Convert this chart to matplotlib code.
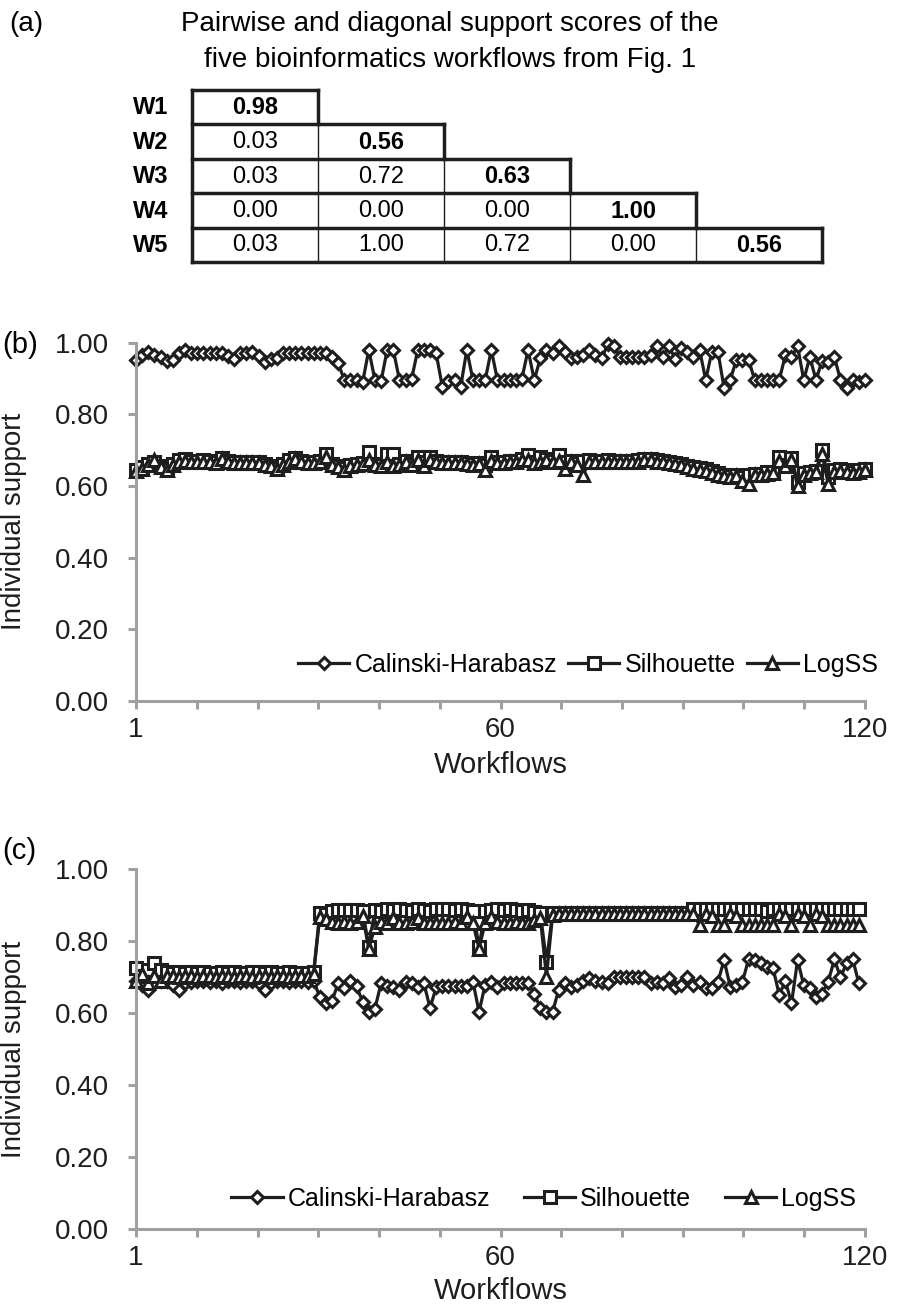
import numpy as np
import matplotlib.pyplot as plt

plt.rcParams['font.family'] = ['Liberation Sans', 'DejaVu Sans']

# (a) pairwise / diagonal support table
workflow_names = ['W1', 'W2', 'W3', 'W4', 'W5']
support_scores = [
    [0.98],
    [0.03, 0.56],
    [0.03, 0.72, 0.63],
    [0.00, 0.00, 0.00, 1.00],
    [0.03, 1.00, 0.72, 0.00, 0.56],
]

series_names = ['Calinski-Harabasz', 'Silhouette', 'LogSS']

# (b) individual support, 120 workflows
ch_b = [
    0.952, 0.966, 0.975, 0.966, 0.960, 0.948, 0.952, 0.970, 0.980, 0.970,
    0.970, 0.970, 0.970, 0.970, 0.970, 0.962, 0.955, 0.970, 0.970, 0.975,
    0.963, 0.947, 0.955, 0.958, 0.970, 0.970, 0.970, 0.970, 0.970, 0.970,
    0.970, 0.970, 0.960, 0.943, 0.896, 0.896, 0.896, 0.890, 0.980, 0.896,
    0.892, 0.980, 0.980, 0.896, 0.896, 0.900, 0.980, 0.980, 0.980, 0.970,
    0.877, 0.892, 0.896, 0.877, 0.980, 0.896, 0.896, 0.896, 0.980, 0.896,
    0.896, 0.896, 0.896, 0.900, 0.980, 0.896, 0.956, 0.980, 0.970, 0.990,
    0.975, 0.956, 0.960, 0.965, 0.980, 0.965, 0.956, 0.995, 0.990, 0.960,
    0.960, 0.960, 0.960, 0.960, 0.965, 0.990, 0.960, 0.990, 0.955, 0.985,
    0.975, 0.960, 0.980, 0.896, 0.975, 0.975, 0.873, 0.896, 0.952, 0.952,
    0.952, 0.896, 0.896, 0.896, 0.896, 0.896, 0.965, 0.960, 0.990, 0.896,
    0.960, 0.896, 0.950, 0.945, 0.960, 0.896, 0.873, 0.896, 0.890, 0.896]
sil_b = [
    0.645, 0.652, 0.662, 0.668, 0.655, 0.648, 0.662, 0.672, 0.675, 0.670,
    0.670, 0.672, 0.670, 0.668, 0.678, 0.670, 0.667, 0.668, 0.666, 0.666,
    0.668, 0.662, 0.657, 0.650, 0.662, 0.672, 0.678, 0.670, 0.668, 0.667,
    0.670, 0.690, 0.662, 0.655, 0.650, 0.658, 0.662, 0.665, 0.695, 0.662,
    0.658, 0.690, 0.690, 0.662, 0.670, 0.662, 0.680, 0.667, 0.680, 0.670,
    0.667, 0.667, 0.666, 0.666, 0.665, 0.662, 0.664, 0.658, 0.682, 0.667,
    0.667, 0.670, 0.670, 0.675, 0.687, 0.667, 0.680, 0.675, 0.670, 0.687,
    0.668, 0.670, 0.665, 0.670, 0.672, 0.670, 0.670, 0.672, 0.670, 0.670,
    0.670, 0.670, 0.672, 0.675, 0.675, 0.672, 0.670, 0.667, 0.664, 0.662,
    0.657, 0.652, 0.650, 0.647, 0.642, 0.635, 0.632, 0.628, 0.630, 0.625,
    0.630, 0.634, 0.634, 0.638, 0.640, 0.680, 0.660, 0.677, 0.612, 0.635,
    0.638, 0.642, 0.700, 0.625, 0.645, 0.648, 0.645, 0.640, 0.645, 0.648]
log_b = [
    0.642, 0.648, 0.658, 0.672, 0.652, 0.645, 0.658, 0.668, 0.670, 0.668,
    0.666, 0.668, 0.668, 0.665, 0.675, 0.667, 0.664, 0.665, 0.664, 0.663,
    0.665, 0.660, 0.655, 0.648, 0.660, 0.668, 0.675, 0.668, 0.665, 0.664,
    0.668, 0.682, 0.660, 0.652, 0.646, 0.655, 0.660, 0.662, 0.672, 0.660,
    0.655, 0.668, 0.657, 0.660, 0.668, 0.658, 0.672, 0.655, 0.672, 0.666,
    0.664, 0.664, 0.663, 0.663, 0.662, 0.660, 0.661, 0.645, 0.670, 0.664,
    0.664, 0.667, 0.667, 0.672, 0.672, 0.664, 0.668, 0.672, 0.667, 0.670,
    0.648, 0.667, 0.660, 0.632, 0.668, 0.666, 0.667, 0.668, 0.666, 0.666,
    0.667, 0.667, 0.668, 0.672, 0.672, 0.668, 0.667, 0.664, 0.661, 0.659,
    0.652, 0.648, 0.645, 0.642, 0.637, 0.630, 0.628, 0.624, 0.627, 0.615,
    0.607, 0.630, 0.630, 0.634, 0.637, 0.670, 0.655, 0.672, 0.600, 0.632,
    0.635, 0.640, 0.688, 0.605, 0.638, 0.642, 0.640, 0.636, 0.640, 0.645]

# (c) individual support, 119 workflows
ch_c = [
    0.690, 0.680, 0.665, 0.685, 0.690, 0.690, 0.680, 0.665, 0.685, 0.688,
    0.690, 0.690, 0.688, 0.690, 0.685, 0.690, 0.690, 0.688, 0.690, 0.690,
    0.685, 0.665, 0.685, 0.690, 0.690, 0.688, 0.690, 0.690, 0.688, 0.690,
    0.645, 0.630, 0.635, 0.683, 0.670, 0.690, 0.675, 0.632, 0.604, 0.613,
    0.683, 0.675, 0.672, 0.665, 0.688, 0.683, 0.672, 0.683, 0.615, 0.672,
    0.675, 0.675, 0.675, 0.675, 0.675, 0.688, 0.604, 0.680, 0.688, 0.672,
    0.683, 0.683, 0.683, 0.683, 0.683, 0.655, 0.615, 0.604, 0.604, 0.665,
    0.683, 0.672, 0.680, 0.690, 0.697, 0.690, 0.688, 0.683, 0.700, 0.700,
    0.700, 0.700, 0.700, 0.700, 0.683, 0.688, 0.683, 0.697, 0.674, 0.678,
    0.700, 0.678, 0.688, 0.669, 0.669, 0.688, 0.748, 0.674, 0.678, 0.688,
    0.750, 0.748, 0.739, 0.730, 0.725, 0.651, 0.690, 0.628, 0.748, 0.678,
    0.669, 0.646, 0.655, 0.688, 0.750, 0.700, 0.739, 0.750, 0.683]
sil_c = [
    0.725, 0.705, 0.720, 0.740, 0.720, 0.715, 0.712, 0.715, 0.712, 0.715,
    0.712, 0.715, 0.712, 0.712, 0.715, 0.712, 0.715, 0.712, 0.712, 0.715,
    0.715, 0.712, 0.715, 0.712, 0.712, 0.715, 0.712, 0.712, 0.712, 0.715,
    0.880, 0.875, 0.885, 0.888, 0.888, 0.888, 0.888, 0.885, 0.785, 0.888,
    0.885, 0.890, 0.888, 0.890, 0.888, 0.885, 0.890, 0.888, 0.885, 0.890,
    0.890, 0.890, 0.888, 0.890, 0.888, 0.885, 0.785, 0.885, 0.888, 0.890,
    0.888, 0.890, 0.888, 0.885, 0.888, 0.882, 0.880, 0.743, 0.878, 0.880,
    0.880, 0.880, 0.880, 0.880, 0.880, 0.880, 0.880, 0.880, 0.880, 0.880,
    0.880, 0.880, 0.880, 0.880, 0.880, 0.880, 0.880, 0.880, 0.880, 0.880,
    0.880, 0.890, 0.890, 0.890, 0.890, 0.890, 0.890, 0.890, 0.890, 0.890,
    0.890, 0.890, 0.890, 0.885, 0.890, 0.890, 0.890, 0.890, 0.890, 0.890,
    0.890, 0.890, 0.890, 0.890, 0.890, 0.890, 0.890, 0.890, 0.890]
log_c = [
    0.690, 0.710, 0.685, 0.705, 0.690, 0.705, 0.705, 0.702, 0.705, 0.705,
    0.702, 0.705, 0.705, 0.702, 0.705, 0.705, 0.702, 0.705, 0.705, 0.702,
    0.705, 0.705, 0.702, 0.705, 0.705, 0.702, 0.705, 0.705, 0.705, 0.710,
    0.868, 0.862, 0.855, 0.852, 0.855, 0.852, 0.855, 0.870, 0.780, 0.840,
    0.855, 0.850, 0.865, 0.852, 0.850, 0.855, 0.865, 0.850, 0.852, 0.850,
    0.852, 0.850, 0.855, 0.852, 0.868, 0.850, 0.780, 0.852, 0.868, 0.855,
    0.852, 0.850, 0.855, 0.852, 0.850, 0.858, 0.866, 0.702, 0.872, 0.877,
    0.877, 0.877, 0.877, 0.877, 0.877, 0.877, 0.877, 0.877, 0.877, 0.877,
    0.877, 0.877, 0.877, 0.877, 0.877, 0.877, 0.877, 0.877, 0.877, 0.877,
    0.877, 0.875, 0.845, 0.875, 0.870, 0.845, 0.845, 0.875, 0.870, 0.845,
    0.845, 0.845, 0.845, 0.845, 0.845, 0.875, 0.870, 0.845, 0.875, 0.870,
    0.845, 0.875, 0.870, 0.845, 0.845, 0.845, 0.845, 0.845, 0.845]

INK = '#1e1e1e'
GREY = '#a0a0a0'
W, H = 909, 1307

fig = plt.figure(figsize=(W / 100, H / 100), dpi=100)

# ---- panel (a): the staircase table ----
fig.text(9 / W, 1 - 24 / H, '(a)', fontsize=20, ha='left', va='center')
fig.text(450 / W, 1 - 24 / H, 'Pairwise and diagonal support scores of the',
         fontsize=20, ha='center', va='center')
fig.text(450 / W, 1 - 60 / H, 'five bioinformatics workflows from Fig. 1',
         fontsize=20, ha='center', va='center')

ax_t = fig.add_axes([192 / W, 1 - 262 / H, 630 / W, 172 / H])
n = len(support_scores)
ax_t.set_xlim(0, n)
ax_t.set_ylim(n, 0)
ax_t.axis('off')

thick = dict(color=INK, lw=2.5, solid_capstyle='projecting', clip_on=False)
thin = dict(color=INK, lw=1.0, clip_on=False)
for r, row in enumerate(support_scores):
    ax_t.text(-0.325, r + 0.52, workflow_names[r], ha='center', va='center',
              fontsize=17, fontweight='bold')
    for c, v in enumerate(row):
        ax_t.text(c + 0.5, r + 0.52, f'{v:.2f}', ha='center', va='center',
                  fontsize=17, fontweight='bold' if c == r else 'normal')
        if c > 0:
            ax_t.plot([c, c], [r, r + 1], **thin)
    ax_t.plot([0, r + 1], [r, r], **thick)
    ax_t.plot([r + 1, r + 1], [r, r + 1], **thick)
ax_t.plot([0, n], [n, n], **thick)
ax_t.plot([0, 0], [0, n], **thick)


# ---- panels (b) and (c) ----
def draw_panel(ax, ch, sil, logss, leg_right, leg_y, colspace):
    x = np.arange(1, len(ch) + 1)
    common = dict(color=INK, lw=2.3, mfc='white', mec=INK, mew=2.2, clip_on=False)
    ax.plot(x, ch, marker='D', ms=6.6, label=series_names[0], **common)
    ax.plot(x, sil, marker='s', ms=8.4, label=series_names[1], **common)
    ax.plot(x, logss, marker='^', ms=9.0, label=series_names[2], **common)

    ax.set_xlim(1, 120)
    ax.set_ylim(0, 1.0)
    for side in ['top', 'right']:
        ax.spines[side].set_visible(False)
    for side in ['left', 'bottom']:
        ax.spines[side].set_color(GREY)
        ax.spines[side].set_linewidth(2.2)

    yt = np.arange(0, 1.01, 0.2)
    ax.set_yticks(yt)
    ax.set_yticklabels([f'{v:.2f}' for v in yt])
    xt = np.linspace(1, 120, 13)
    ax.set_xticks(xt)
    labels = [''] * len(xt)
    labels[0], labels[6], labels[-1] = '1', '60', '120'
    ax.set_xticklabels(labels)
    ax.tick_params(axis='y', direction='out', length=5.5, width=2.2, color=GREY,
                   labelsize=20, pad=14, labelcolor=INK)
    ax.tick_params(axis='x', direction='out', length=5.5, width=2.2, color=GREY,
                   labelsize=20, pad=6, labelcolor=INK)

    ax.set_ylabel('Individual support', fontsize=20, color=INK)
    ax.yaxis.set_label_coords(-0.149, 0.5)
    ax.set_xlabel('Workflows', fontsize=21, color=INK)

    ax.legend(loc='center right', bbox_to_anchor=(leg_right, leg_y), ncol=3,
              frameon=False, fontsize=18, handlelength=2.05, handletextpad=0.2,
              columnspacing=colspace, borderpad=0, borderaxespad=0, numpoints=1)


ax_b = fig.add_axes([136 / W, 1 - 701 / H, 729 / W, 358.3 / H])
draw_panel(ax_b, ch_b, sil_b, log_b, 1.018, 0.10, 0.45)
ax_b.xaxis.set_label_coords(0.5, -0.14)
fig.text(2 / W, 1 - 345 / H, '(b)', fontsize=21, ha='left', va='center')

ax_c = fig.add_axes([136 / W, 1 - 1229.3 / H, 729 / W, 360 / H])
draw_panel(ax_c, ch_c, sil_c, log_c, 0.988, 0.085, 1.35)
ax_c.xaxis.set_label_coords(0.5, -0.132)
fig.text(2 / W, 1 - 851 / H, '(c)', fontsize=21, ha='left', va='center')

fig.savefig('out.png', dpi=100)
